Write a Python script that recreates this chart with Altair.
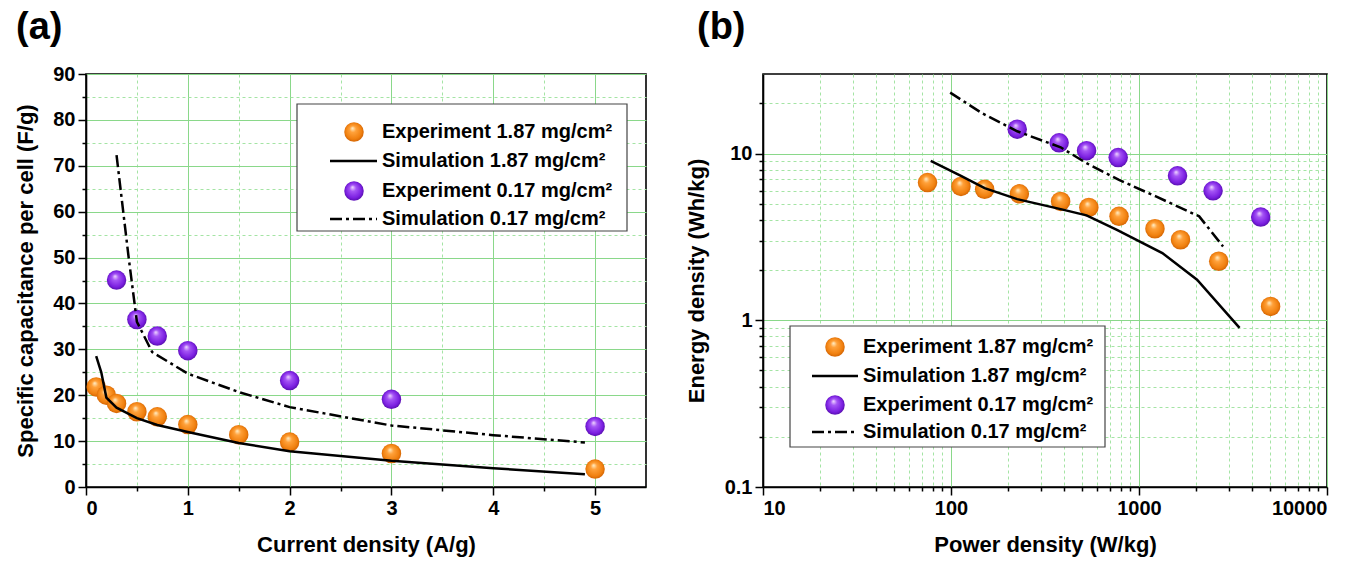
import altair as alt
import pandas as pd

# ---------------- Panel (a): specific capacitance vs current density ----------------
a_exp187_x = [0.1, 0.2, 0.3, 0.5, 0.7, 1.0, 1.5, 2.0, 3.0, 5.0]
a_exp187_y = [21.8, 20.0, 18.2, 16.4, 15.3, 13.6, 11.4, 9.8, 7.3, 3.9]
a_exp017_x = [0.3, 0.5, 0.7, 1.0, 2.0, 3.0, 5.0]
a_exp017_y = [45.1, 36.5, 32.9, 29.7, 23.2, 19.1, 13.2]
a_sim187_x = [0.1, 0.15, 0.2, 0.3, 0.5, 0.7, 1.0, 1.5, 2.0, 3.0, 4.0, 4.9]
a_sim187_y = [28.5, 25.0, 19.5, 17.3, 15.0, 13.5, 12.0, 9.6, 7.8, 5.7, 4.1, 2.8]
a_sim017_x = [0.3, 0.42, 0.5, 0.65, 1.0, 1.5, 2.0, 3.0, 4.0, 4.9]
a_sim017_y = [72.3, 49.8, 36.0, 29.4, 24.7, 20.7, 17.4, 13.4, 11.3, 9.7]
a_x_ticks = [0, 0.5, 1, 1.5, 2, 2.5, 3, 3.5, 4, 4.5, 5]
a_y_ticks = [0, 5, 10, 15, 20, 25, 30, 35, 40, 45, 50, 55, 60, 65, 70, 75, 80, 85, 90]

# ---------------- Panel (b): Ragone plot ----------------
b_exp187_x = [75, 113, 151, 231, 383, 541, 783, 1216, 1663, 2655, 5012]
b_exp187_y = [6.7, 6.35, 6.1, 5.73, 5.16, 4.75, 4.2, 3.54, 3.04, 2.26, 1.21]
b_exp017_x = [225, 376, 526, 775, 1603, 2477, 4440]
b_exp017_y = [14.0, 11.6, 10.4, 9.46, 7.35, 5.98, 4.16]
b_sim187_x = [78, 113, 151, 225, 383, 526, 763, 1331, 2036, 3428]
b_sim187_y = [9.04, 7.35, 6.2, 5.33, 4.64, 4.26, 3.49, 2.53, 1.75, 0.90]
b_sim017_x = [99, 147, 225, 383, 526, 783, 1230, 2090, 2800]
b_sim017_y = [23.2, 17.4, 13.6, 10.9, 8.75, 6.95, 5.53, 4.2, 2.77]
b_x_ticks = [10, 20, 30, 40, 50, 60, 70, 80, 90,
             100, 200, 300, 400, 500, 600, 700, 800, 900,
             1000, 2000, 3000, 4000, 5000, 6000, 7000, 8000, 9000, 10000]
b_y_ticks = [0.1, 0.2, 0.3, 0.4, 0.5, 0.6, 0.7, 0.8, 0.9,
             1, 2, 3, 4, 5, 6, 7, 8, 9, 10, 20]

legend_labels = ["Experiment 1.87 mg/cm²", "Simulation 1.87 mg/cm²",
                 "Experiment 0.17 mg/cm²", "Simulation 0.17 mg/cm²"]

FONT = "Liberation Sans"
DASHDOT = [12, 4, 3, 4]
PT_SIZE = 380
LW = 2.5

ORANGE = {"gradient": "radial", "x1": 0.42, "y1": 0.3, "r1": 0.0,
          "x2": 0.5, "y2": 0.5, "r2": 0.55,
          "stops": [{"offset": 0.0, "color": "#fff0cc"},
                    {"offset": 0.3, "color": "#ffa13a"},
                    {"offset": 0.75, "color": "#f0800f"},
                    {"offset": 1.0, "color": "#c85a00"}]}
PURPLE = {"gradient": "radial", "x1": 0.42, "y1": 0.3, "r1": 0.0,
          "x2": 0.5, "y2": 0.5, "r2": 0.55,
          "stops": [{"offset": 0.0, "color": "#f2dcff"},
                    {"offset": 0.3, "color": "#a555f5"},
                    {"offset": 0.75, "color": "#7a1ee0"},
                    {"offset": 1.0, "color": "#4c0c9c"}]}


def frame(xs, ys):
    return pd.DataFrame({"x": xs, "y": ys})


def grid_axis(title, values, minor_test, label_expr, title_pad, **kw):
    return alt.Axis(
        title=title, values=values, labelExpr=label_expr, grid=True,
        gridDash={"condition": {"test": minor_test, "value": [3, 3]}, "value": []},
        gridColor={"condition": {"test": minor_test, "value": "#a4e4a4"}, "value": "#8ad88a"},
        gridWidth=1,
        tickSize={"condition": {"test": minor_test, "value": 4}, "value": 8},
        labelPadding=3, titlePadding=title_pad, labelAngle=0, **kw)


def panel(xenc, yenc, exp187, sim187, exp017, sim017):
    base_enc = dict(x=xenc, y=yenc)
    pts187 = alt.Chart(exp187).mark_circle(size=PT_SIZE, opacity=1, fill=ORANGE).encode(**base_enc)
    pts017 = alt.Chart(exp017).mark_circle(size=PT_SIZE, opacity=1, fill=PURPLE).encode(**base_enc)
    l187 = alt.Chart(sim187).mark_line(color="black", strokeWidth=LW).encode(**base_enc)
    l017 = alt.Chart(sim017).mark_line(color="black", strokeWidth=LW, strokeDash=DASHDOT).encode(**base_enc)
    return [pts187, pts017, l187, l017]


ONE = pd.DataFrame({"k": [0]})


def legend(bx0, by0, bx1, by1, rows_y, sym_x, lx0, lx1, tx):
    layers = [alt.Chart(ONE).mark_rect(fill="white", stroke="#444444", strokeWidth=1.2).encode(
        x=alt.value(bx0), x2=alt.value(bx1), y=alt.value(by0), y2=alt.value(by1))]
    kinds = ["orange", "solid", "purple", "dashdot"]
    for kind, label, yy in zip(kinds, legend_labels, rows_y):
        if kind == "orange":
            layers.append(alt.Chart(ONE).mark_circle(size=PT_SIZE, opacity=1, fill=ORANGE).encode(
                x=alt.value(sym_x), y=alt.value(yy)))
        elif kind == "purple":
            layers.append(alt.Chart(ONE).mark_circle(size=PT_SIZE, opacity=1, fill=PURPLE).encode(
                x=alt.value(sym_x), y=alt.value(yy)))
        elif kind == "solid":
            layers.append(alt.Chart(ONE).mark_rule(color="black", strokeWidth=LW).encode(
                x=alt.value(lx0), x2=alt.value(lx1), y=alt.value(yy)))
        else:
            layers.append(alt.Chart(ONE).mark_rule(color="black", strokeWidth=LW, strokeDash=DASHDOT).encode(
                x=alt.value(lx0), x2=alt.value(lx1), y=alt.value(yy)))
        layers.append(alt.Chart(ONE).mark_text(
            text=label, font=FONT, fontSize=20, fontWeight="bold", color="black",
            align="left", baseline="middle").encode(x=alt.value(tx), y=alt.value(yy)))
    return layers


def panel_label(txt, x):
    return alt.Chart(ONE).mark_text(
        text=txt, font=FONT, fontSize=38, fontWeight="bold", color="black",
        align="left", baseline="middle").encode(x=alt.value(x), y=alt.value(-46))


# ----- panel (a) -----
ax = alt.X("x:Q", scale=alt.Scale(domain=[0, 5.5], nice=False, zero=False),
           axis=grid_axis("Current density (A/g)", a_x_ticks, "datum.value % 1 != 0",
                          "datum.value % 1 == 0 ? format(datum.value, 'd') : ''", 16))
ay = alt.Y("y:Q", scale=alt.Scale(domain=[0, 90], nice=False),
           axis=grid_axis("Specific capacitance per cell (F/g)", a_y_ticks, "datum.value % 10 != 0",
                          "datum.value % 10 == 0 ? format(datum.value, 'd') : ''", 15))

chart_a = alt.layer(
    *panel(ax, ay, frame(a_exp187_x, a_exp187_y), frame(a_sim187_x, a_sim187_y),
           frame(a_exp017_x, a_exp017_y), frame(a_sim017_x, a_sim017_y)),
    *legend(211, 30, 541, 157, [58, 87, 117, 145], 268, 244, 291, 296),
    panel_label("(a)", -70),
).properties(width=560, height=413)

# ----- panel (b) -----
dec_test = "abs(log(datum.value)/LN10 - round(log(datum.value)/LN10)) > 0.0001"
dec_label = "abs(log(datum.value)/LN10 - round(log(datum.value)/LN10)) < 0.0001 ? format(datum.value, '~g') : ''"
bx = alt.X("x:Q", scale=alt.Scale(type="log", domain=[10, 10000], nice=False),
           axis=grid_axis("Power density (W/kg)", b_x_ticks, dec_test, dec_label, 16))
by = alt.Y("y:Q", scale=alt.Scale(type="log", domain=[0.1, 30], nice=False),
           axis=grid_axis("Energy density (Wh/kg)", b_y_ticks, dec_test, dec_label, 16))

chart_b = alt.layer(
    *panel(bx, by, frame(b_exp187_x, b_exp187_y), frame(b_sim187_x, b_sim187_y),
           frame(b_exp017_x, b_exp017_y), frame(b_sim017_x, b_sim017_y)),
    *legend(27, 252, 342, 373, [273, 302, 331, 358], 72, 49, 95, 100),
    panel_label("(b)", -66),
).properties(width=564, height=413)

chart = alt.hconcat(chart_a, chart_b, spacing=117, bounds="flush").properties(
    padding={"left": 13, "top": 8, "right": 5, "bottom": 5},
    background="white",
).configure_view(
    stroke="black", strokeWidth=1.6
).configure_axis(
    domainColor="black", domainWidth=1.6, tickColor="black", tickWidth=1.5,
    labelFont=FONT, labelFontSize=20, labelFontWeight="bold", labelColor="black",
    titleFont=FONT, titleFontSize=22, titleFontWeight="bold", titleColor="black",
)

chart.save("out.html", embed_options={"renderer": "svg", "actions": False})
